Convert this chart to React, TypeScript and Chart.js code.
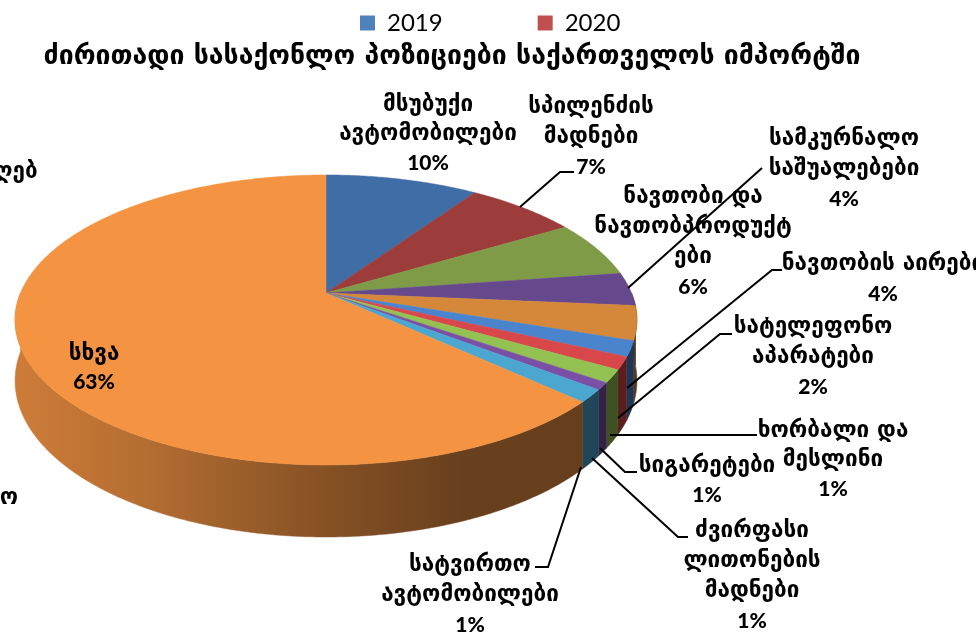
import React, { useEffect, useRef } from "react";
import { Chart, registerables } from "chart.js";

Chart.register(...registerables);

const categories = [
  "მსუბუქი ავტომობილები",
  "სპილენძის მადნები",
  "ნავთობი და ნავთობპროდუქტები",
  "სამკურნალო საშუალებები",
  "ნავთობის აირები",
  "სატელეფონო აპარატები",
  "ხორბალი და მესლინი",
  "სიგარეტები",
  "ძვირფასი ლითონების მადნები",
  "სატვირთო ავტომობილები",
  "სხვა",
];
const shares = [9.5, 6.9, 6.3, 3.7, 3.8, 1.7, 1.4, 1.4, 0.8, 1.4, 63.1];
const seriesNames = ["2019", "2020"];
const seriesColors = ["#4F81BD", "#C0504D"];
const sliceColors = ["#3F6DA6", "#9C3D3B", "#7F9B48", "#66498C", "#D5873A", "#4A84CC", "#D8474A", "#93C152", "#7A50A6", "#4BA6D0", "#F49443"];
const titleText = "ძირითადი სასაქონლო პოზიციები საქართველოს იმპორტში";

const GEO_FONT = "'DejaVu Sans', sans-serif";
const NUM_FONT = "Lato, 'DejaVu Sans', sans-serif";

const labelLayout = [
  { lines: ["მსუბუქი", "ავტომობილები", "10%"], x: 428, y: 105, step: 29 },
  { lines: ["სპილენძის", "მადნები", "7%"], x: 591, y: 107, step: 30 },
  { lines: ["ნავთობი და", "ნავთობპროდუქტ", "ები", "6%"], x: 693, y: 197, step: 30 },
  { lines: ["სამკურნალო", "საშუალებები", "4%"], x: 844, y: 139, step: 30 },
  { lines: ["ნავთობის აირები", "4%"], x: 883, y: 264, step: 30 },
  { lines: ["სატელეფონო", "აპარატები", "2%"], x: 813, y: 327, step: 30 },
  { lines: ["ხორბალი და", "მესლინი", "1%"], x: 833, y: 431, step: 29 },
  { lines: ["სიგარეტები", "1%"], x: 707, y: 466, step: 29 },
  { lines: ["ძვირფასი", "ლითონების", "მადნები", "1%"], x: 752, y: 531, step: 30 },
  { lines: ["სატვირთო", "ავტომობილები", "1%"], x: 470, y: 565, step: 30 },
  { lines: ["სხვა", "63%"], x: 94, y: 354, step: 28 },
  { lines: ["ღებ"], x: 16, y: 172, step: 0 },
  { lines: ["ო"], x: 9, y: 498, step: 0 },
];

const leaders = [
  [[520, 207], [560, 172], [574, 172]],
  [[628, 288], [762, 168]],
  [[627, 388], [772, 270], [782, 270]],
  [[618, 418], [720, 334], [732, 334]],
  [[610, 435], [757, 435]],
  [[600, 448], [625, 472], [637, 472]],
  [[592, 458], [678, 537], [688, 537]],
  [[581, 467], [548, 567], [535, 567]],
];

const CX = 326;
const CY = 293;
const RX = 305.5;
const RY = 140;
const K = 0.186;
const DEPTH = 72;

function persp(y: number) {
  return 1 / (1 - K * y);
}
function topPoint(a: number): [number, number] {
  const x = Math.cos(a);
  const y = Math.sin(a);
  const p = persp(y);
  return [CX + RX * x * p, CY + RY * y * p];
}
function bottomPoint(a: number): [number, number] {
  const t = topPoint(a);
  const d = (DEPTH * persp(Math.sin(a))) / persp(1);
  return [t[0], t[1] + d];
}
function shade(hex: string, f: number) {
  const n = parseInt(hex.slice(1), 16);
  return `rgb(${((n >> 16) & 255) * f},${((n >> 8) & 255) * f},${(n & 255) * f})`;
}

const pie3d = {
  id: "pie3d",
  beforeDraw(chart: any) {
    const legend = chart.legend;
    const padding = legend.options.labels.padding;
    legend.left = 360 - padding;
    legend.top = 11 - padding;
    const t = chart.titleBlock;
    t.left = 0;
    t.right = 904;
    t.top = 41;
  },
  beforeDatasetDraw(chart: any) {
    const ctx: CanvasRenderingContext2D = chart.ctx;
    const arcs = chart.getDatasetMeta(0).data;
    const colors = chart.data.datasets[0].backgroundColor;
    const two = Math.PI * 2;
    // rim: the part of each slice's arc that lies on the near side
    arcs.forEach((arc: any, i: number) => {
      const parts: [number, number][] = [];
      for (const [lo, hi] of [[0, Math.PI], [two, two + Math.PI]]) {
        const a = Math.max(arc.startAngle, lo);
        const b = Math.min(arc.endAngle, hi);
        if (b > a) parts.push([a, b]);
      }
      parts.forEach(([a, b]) => {
        const grad = ctx.createLinearGradient(CX - RX, 0, CX + RX, 0);
        const c = colors[i];
        grad.addColorStop(0, shade(c, 0.84));
        grad.addColorStop(0.2, shade(c, 0.74));
        grad.addColorStop(0.5, shade(c, 0.55));
        grad.addColorStop(0.72, shade(c, 0.43));
        grad.addColorStop(1, shade(c, 0.42));
        ctx.beginPath();
        const n = Math.max(2, Math.ceil((b - a) / 0.01));
        for (let k = 0; k <= n; k++) {
          const p = topPoint(a + ((b - a) * k) / n);
          if (k === 0) ctx.moveTo(p[0], p[1]);
          else ctx.lineTo(p[0], p[1]);
        }
        for (let k = n; k >= 0; k--) {
          const p = bottomPoint(a + ((b - a) * k) / n);
          ctx.lineTo(p[0], p[1]);
        }
        ctx.closePath();
        ctx.fillStyle = grad;
        ctx.fill();
        ctx.strokeStyle = grad;
        ctx.lineWidth = 0.5;
        ctx.stroke();
      });
    });
    // top face
    arcs.forEach((arc: any, i: number) => {
      const a = arc.startAngle;
      const b = arc.endAngle;
      const n = Math.max(2, Math.ceil((b - a) / 0.01));
      ctx.beginPath();
      ctx.moveTo(CX, CY);
      for (let k = 0; k <= n; k++) {
        const p = topPoint(a + ((b - a) * k) / n);
        ctx.lineTo(p[0], p[1]);
      }
      ctx.closePath();
      ctx.fillStyle = colors[i];
      ctx.strokeStyle = colors[i];
      ctx.lineWidth = 0.5;
      ctx.fill();
      ctx.stroke();
    });
    return false;
  },
  afterDatasetsDraw(chart: any) {
    const ctx: CanvasRenderingContext2D = chart.ctx;
    ctx.save();
    ctx.strokeStyle = "#000";
    ctx.lineWidth = 2;
    leaders.forEach((pts) => {
      ctx.beginPath();
      pts.forEach((p, i) => (i ? ctx.lineTo(p[0], p[1]) : ctx.moveTo(p[0], p[1])));
      ctx.stroke();
    });
    ctx.fillStyle = "#000";
    ctx.textAlign = "center";
    ctx.textBaseline = "middle";
    labelLayout.forEach((l) => {
      l.lines.forEach((line, i) => {
        ctx.font = line.includes("%") ? `900 21px ${NUM_FONT}` : `bold 22.5px ${GEO_FONT}`;
        ctx.fillText(line, l.x, l.y + i * l.step);
      });
    });
    ctx.restore();
  },
};

export default function App() {
  const ref = useRef<HTMLCanvasElement>(null);
  useEffect(() => {
    document.body.style.margin = "0";
    const chart = new Chart(ref.current!, {
      type: "pie",
      data: {
        labels: categories,
        datasets: [{ data: shares, backgroundColor: sliceColors, borderWidth: 0 }],
      },
      options: {
        responsive: false,
        animation: false,
        events: [],
        plugins: {
          title: {
            display: true,
            text: titleText,
            color: "#000",
            padding: 0,
            font: { family: GEO_FONT, size: 26.6, weight: "bold" },
          },
          legend: {
            display: true,
            position: "top",
            align: "start",
            weight: 3000,
            labels: {
              boxWidth: 15,
              boxHeight: 15,
              padding: 95,
              color: "#222",
              font: { family: NUM_FONT, size: 24 },
              generateLabels: () =>
                seriesNames.map((text, i) => ({
                  text,
                  fillStyle: seriesColors[i],
                  strokeStyle: seriesColors[i],
                  lineWidth: 0,
                  hidden: false,
                  index: i,
                })),
            },
          },
          tooltip: { enabled: false },
        },
      } as any,
      plugins: [pie3d as any],
    });
    return () => chart.destroy();
  }, []);
  return (
    <div style={{ position: "absolute", left: 0, top: 0, width: 976, height: 634, overflow: "hidden", background: "#fff" }}>
      <canvas ref={ref} width={976} height={634} style={{ display: "block" }} />
    </div>
  );
}
